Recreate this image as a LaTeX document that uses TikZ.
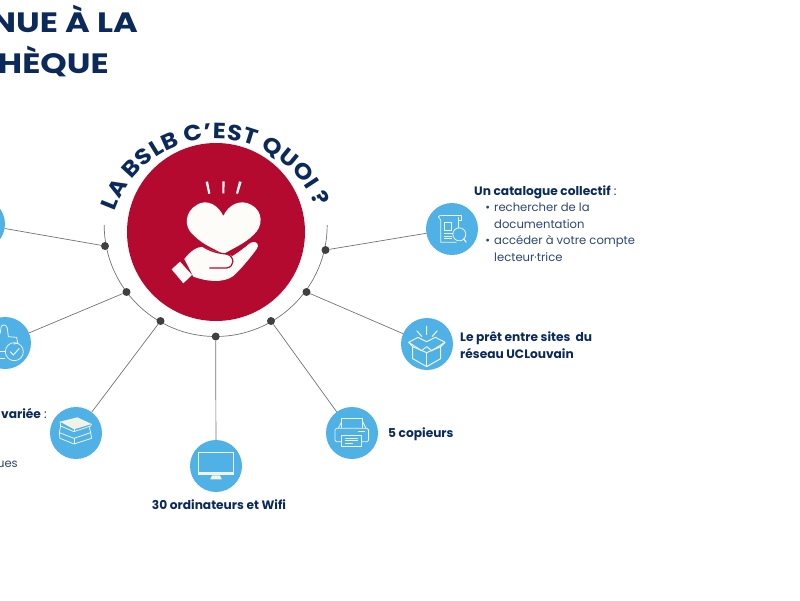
\documentclass[tikz,border=0pt]{standalone}
\usepackage{graphicx}
\usepackage{fontspec}
\setmainfont{Poppins}
\newfontfamily\archfont[FakeStretch=1.1]{Poppins}
\usetikzlibrary{positioning,decorations.text}
\definecolor{navy}{HTML}{0B2A5B}
\definecolor{softnavy}{HTML}{2C4672}
\definecolor{bslbred}{HTML}{B50A30}
\definecolor{skyblue}{HTML}{4FB1E6}
\definecolor{cream}{HTML}{F1F2E8}
\definecolor{heartwhite}{HTML}{FDFCF9}
\tikzset{
  disc/.style={circle, fill=skyblue, minimum size=52pt, inner sep=0pt},
  dot/.style={circle, fill=black!75, minimum size=8pt, inner sep=0pt},
  link/.style={draw=black!55, line width=.7pt},
  lbl/.style={text=navy, font=\fontsize{12.2}{16.5}\selectfont, inner sep=0pt, align=left},
  lighter/.style={text=softnavy, font=\fontsize{11.6}{16.4}\selectfont},
  head/.style={text=navy, font=\fontsize{28}{28}\selectfont\bfseries, inner sep=0pt},
  icon/.style={draw=cream, line width=.8pt, line join=round},
  zoomed/.style={x=.3333pt, y=-.3333pt}
}
\begin{document}
\begin{tikzpicture}[x=1pt, y=1pt]
\useasboundingbox (0,-600) rectangle (800,0);
\clip (0,-600) rectangle (800,0);
\node[head, anchor=base east] (hone) at (138,-32) {\scalebox{1.2}[1]{NUE À LA}};
\node[head, anchor=base east] (htwo) at (109,-73) {\scalebox{1.2}[1]{HÈQUE}};
% half ring and its dots
\coordinate (ringl) at (104.2,-225);
\draw[draw=black!55, line width=.7pt] (ringl) arc (180:360:111.5);
\node[circle, fill=bslbred, minimum size=178pt, inner sep=0pt] (core) at (216,-232) {};
\path[decorate, decoration={text along path, text align=fit to path,
  text={|\archfont\fontsize{22}{22}\selectfont\bfseries\color{navy}|LA BSLB C’EST QUOI ?}}]
  (216,-246) ++(161:107) arc (161:21:107);
\node[dot] (dleft) at (105,-246) {};
\node[dot] (dthumb) at (126.5,-292) {};
\node[dot] (dbook) at (160.5,-321) {};
\node[dot] (dpc) at (215.7,-336.5) {};
\node[dot] (dcopy) at (271,-321) {};
\node[dot] (dloan) at (306.5,-292) {};
\node[dot] (dcat) at (325.5,-250) {};
\node[disc] (nleft) at (-21,-224) {};
\node[disc] (nthumb) at (5,-343) {};
\node[disc] (nbook) at (76,-433) {};
\node[disc] (npc) at (216,-466) {};
\node[disc] (ncopy) at (352,-433) {};
\node[disc] (nloan) at (427,-344) {};
\node[disc] (ncat) at (452,-229) {};
\draw[link] (dleft) -- (nleft);
\draw[link] (dthumb) -- (nthumb);
\draw[link] (dbook) -- (nbook);
\draw[link] (dpc) -- (npc);
\draw[link] (dcopy) -- (ncopy);
\draw[link] (dloan) -- (nloan);
\draw[link] (dcat) -- (ncat);
% labels
\node[lbl, anchor=base west] (tcat) at (474,-195) {\textbf{Un catalogue collectif} :};
\node[lbl, lighter, anchor=base west] (tlist) at (494,-261) {\llap{•\hspace{4pt}}rechercher de la\\documentation\\\llap{•\hspace{4pt}}accéder à votre compte\\lecteur·trice};
\node[lbl, anchor=base west] (tloan) at (460,-358) {\textbf{Le prêt entre sites\ \ du}\\\textbf{réseau UCLouvain}};
\node[lbl, anchor=base west] (tcopy) at (388,-437) {\textbf{5 copieurs}};
\node[lbl, anchor=base] (tpc) at (219,-509) {\textbf{30 ordinateurs et Wifi}};
\node[lbl, anchor=base east] (tbook) at (47,-418) {\textbf{variée} :};
\node[lbl, lighter, anchor=base east] (tbooktwo) at (18,-467) {ues};
% heart and hand
\begin{scope}[shift={(90,-110)}, zoomed]
\fill[heartwhite] (400,318) .. controls (385,285) and (350,265) .. (320,285) .. controls (285,305) and (280,350) .. (310,375) .. controls (340,405) and (370,415) .. (400,432) .. controls (430,415) and (465,400) .. (490,375) .. controls (520,350) and (520,305) .. (485,285) .. controls (450,265) and (415,285) .. (400,318) -- cycle;
\fill[heartwhite] (283,447) .. controls (300,425) and (320,410) .. (340,410) .. controls (370,425) and (400,432) .. (425,437) .. controls (450,425) and (470,405) .. (485,397) .. controls (500,392) and (510,405) .. (500,417) .. controls (480,445) and (450,480) .. (430,498) .. controls (400,520) and (350,515) .. (310,500) -- cycle;
\fill[heartwhite] (245,478) -- (270,455) -- (306,495) -- (280,520) -- cycle;
\draw[bslbred, line width=1.2pt] (332,405) .. controls (360,425) and (385,430) .. (410,432) .. controls (435,440) and (435,470) .. (410,474) -- (358,474);
\draw[bslbred, line width=1.2pt] (425,437) .. controls (445,425) and (460,412) .. (470,405);
\fill[heartwhite] (347,216) -- (354,214) -- (361,250) -- (355,252) -- cycle;
\fill[heartwhite] (397,214) -- (404,214) -- (403,250) -- (397,250) -- cycle;
\fill[heartwhite] (447,214) -- (455,216) -- (444,252) -- (438,250) -- cycle;
\end{scope}
% catalogue icon
\begin{scope}[shift={(400,-170)}, zoomed]
\draw[icon] (122,135) -- (185,135) -- (185,150) -- (175,150) -- (175,140);
\draw[icon] (122,135) -- (115,140) -- (122,150) -- (122,217) -- (170,217);
\draw[icon] (175,150) -- (175,175);
\draw[icon] (133,157) rectangle (155,180);
\draw[icon] (132,190) -- (160,190) (132,198) -- (155,198) (132,206) -- (155,206);
\draw[icon, fill=skyblue] (178,193) circle (6.5pt);
\draw[icon, line width=1.2pt] (190,206) -- (199,217);
\end{scope}
% box icon
\begin{scope}[shift={(400,-170)}, zoomed]
\draw[icon, line width=1pt] (80,468) -- (80,495) (50,482) -- (66,500) (112,482) -- (96,500);
\draw[icon, line width=1pt] (38,530) -- (80,548) -- (122,530) -- (122,566) -- (80,590) -- (38,566) -- cycle;
\draw[icon, line width=1pt] (80,548) -- (80,590);
\draw[icon, line width=1pt] (38,530) -- (26,517) -- (54,502) -- (80,515) -- (106,502) -- (135,517) -- (122,530);
\draw[icon, line width=1pt] (26,517) -- (65,542) -- (80,530) -- (95,542) -- (135,517);
\end{scope}
% thumb icon
\begin{scope}[shift={(0,-300)}, zoomed]
\draw[icon] (0,102) -- (4,78) .. controls (10,72) and (20,75) .. (22,85) -- (25,110) -- (50,112) -- (53,130) -- (40,132);
\draw[icon] (0,155) -- (16,155) (0,175) -- (16,175);
\draw[icon] (43,155) circle (9pt);
\draw[icon, line width=1pt] (31,155) -- (40,165) -- (58,145);
\end{scope}
% books icon
\begin{scope}[shift={(0,-300)}, zoomed]
\fill[cream] (180,365) -- (232,352) -- (275,372) -- (222,388) -- cycle;
\draw[icon] (180,365) -- (182,378) -- (222,395) -- (272,378) -- (275,372);
\draw[icon] (182,378) -- (178,398) -- (222,415) -- (272,398) -- (268,382);
\draw[icon] (178,398) -- (180,415) -- (222,432) -- (275,415) -- (272,398);
\draw[icon] (222,388) -- (222,395) (222,415) -- (222,432);
\end{scope}
% printer icon
\begin{scope}[shift={(140,-400)}, zoomed]
\draw[icon] (605,85) -- (605,55) -- (668,55) -- (668,85);
\draw[icon] (595,85) -- (605,65) (678,85) -- (668,65);
\draw[icon, rounded corners=1.5pt] (585,85) rectangle (686,125);
\draw[icon, fill=skyblue] (605,105) rectangle (665,138);
\draw[icon] (615,115) -- (655,115) (615,122) -- (655,122) (615,129) -- (640,129);
\draw[icon] (655,95) -- (675,95);
\end{scope}
% screen icon
\begin{scope}[shift={(140,-400)}, zoomed]
\draw[icon, line width=1pt] (176,157) rectangle (281,222);
\fill[cream] (175,215) rectangle (282,226);
\fill[cream] (216,226) -- (240,226) -- (245,238) -- (211,238) -- cycle;
\end{scope}
\end{tikzpicture}
\end{document}
